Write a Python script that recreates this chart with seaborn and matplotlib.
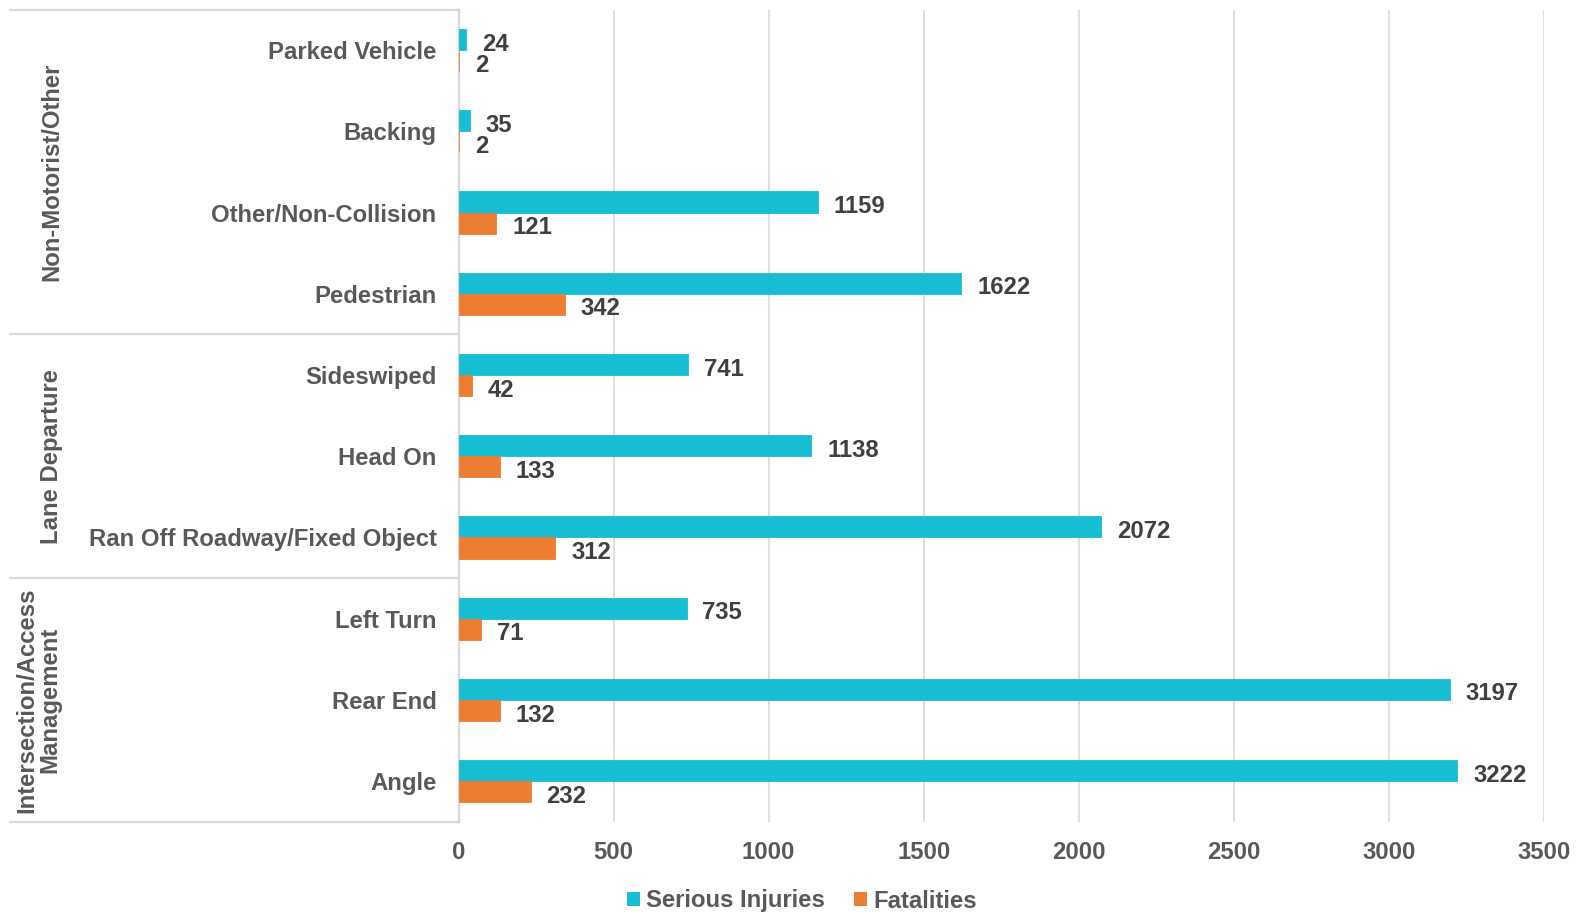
import matplotlib
matplotlib.use("Agg")
import matplotlib.pyplot as plt
from matplotlib.patches import Patch
import pandas as pd
import seaborn as sns

# Crash types, listed top to bottom
categories = [
    "Parked Vehicle", "Backing", "Other/Non-Collision", "Pedestrian",
    "Sideswiped", "Head On", "Ran Off Roadway/Fixed Object",
    "Left Turn", "Rear End", "Angle",
]
serious_injuries = [24, 35, 1159, 1622, 741, 1138, 2072, 735, 3197, 3222]
fatalities = [2, 2, 121, 342, 42, 133, 312, 71, 132, 232]
series_names = ["Serious Injuries", "Fatalities"]

# Emphasis-area groups: (label, first row, last row)
groups = [
    ("Non-Motorist/Other", 0, 3),
    ("Lane Departure", 4, 6),
    ("Intersection/Access\nManagement", 7, 9),
]
x_ticks = [0, 500, 1000, 1500, 2000, 2500, 3000, 3500]

CYAN = "#17BED3"
ORANGE = "#ED7D31"
LABEL_GREY = "#595959"
VALUE_GREY = "#404040"
LINE_GREY = "#D9D9D9"
FS = 17.2

sns.set_style("white")
plt.rcParams["font.family"] = ["Liberation Sans", "DejaVu Sans"]
plt.rcParams["font.weight"] = "bold"

df = pd.DataFrame({
    "category": categories * 2,
    "count": serious_injuries + fatalities,
    "series": [series_names[0]] * len(categories) + [series_names[1]] * len(categories),
})

fig = plt.figure(figsize=(15.86, 9.14), dpi=100)
ax = fig.add_axes([0.2892, 0.1010, 0.6841, 0.8886])

sns.barplot(
    data=df, y="category", x="count", hue="series", orient="h",
    order=categories, hue_order=series_names,
    palette=[CYAN, ORANGE], width=0.52, saturation=1.0,
    errorbar=None, ax=ax, legend=False,
)
# thin outline in the bar colour so very small values stay visible
for patch in ax.patches:
    patch.set_edgecolor(patch.get_facecolor())
    patch.set_linewidth(0.6)
    patch.set_zorder(3)

ax.set_xlim(0, 3500)
ax.set_ylim(len(categories) - 0.5, -0.5)
ax.set_xticks(x_ticks)
ax.set_xticklabels([str(t) for t in x_ticks])
ax.set_xlabel("")
ax.set_ylabel("")
ax.tick_params(axis="x", length=0, pad=14, labelsize=FS, labelcolor=LABEL_GREY)
ax.tick_params(axis="y", length=0, pad=16, labelsize=FS, labelcolor=LABEL_GREY)
for lbl in ax.get_xticklabels() + ax.get_yticklabels():
    lbl.set_fontweight("bold")

ax.xaxis.grid(True, color=LINE_GREY, linewidth=1.2)
ax.set_axisbelow(True)
for side in ("top", "right", "bottom"):
    ax.spines[side].set_visible(False)
ax.spines["left"].set_color(LINE_GREY)
ax.spines["left"].set_linewidth(1.6)
ax.spines["left"].set_zorder(2)

# Value labels at the end of each bar, nudged slightly downward
for container in ax.containers:
    labels = ax.bar_label(container, padding=11.5, fontsize=FS,
                          fontweight="bold", color=VALUE_GREY)
    for t in labels:
        t.set_verticalalignment("center_baseline")
        t.xyann = (11.5, -1.5)

# Group separators and group names to the left of the category labels
tr = ax.get_yaxis_transform()
left_edge = (9 - 458.7) / 1085.0
bounds = [-0.5] + [g[2] + 0.5 for g in groups]
for y in bounds:
    ax.plot([left_edge, 0], [y, y], transform=tr, color=LINE_GREY,
            linewidth=1.6, clip_on=False, solid_capstyle="butt")

group_x = {0: (52 - 458.7) / 1085.0, 1: (52 - 458.7) / 1085.0,
           2: (38.5 - 458.7) / 1085.0}
for i, (name, start, end) in enumerate(groups):
    ax.text(group_x[i], (start + end) / 2, name, transform=tr, rotation=90,
            ha="center", va="center", multialignment="center",
            fontsize=FS, fontweight="bold", color=LABEL_GREY, linespacing=1.0)

handles = [Patch(facecolor=CYAN, edgecolor="none"),
           Patch(facecolor=ORANGE, edgecolor="none")]
leg = fig.legend(handles, series_names, loc="center",
                 bbox_to_anchor=(802 / 1586, 1 - 901 / 914), ncol=2,
                 frameon=False, fontsize=FS, handlelength=0.55,
                 handleheight=0.55, handletextpad=0.25, columnspacing=1.2)
for t in leg.get_texts():
    t.set_color(LABEL_GREY)
    t.set_fontweight("bold")

fig.savefig("out.png", dpi=100)
